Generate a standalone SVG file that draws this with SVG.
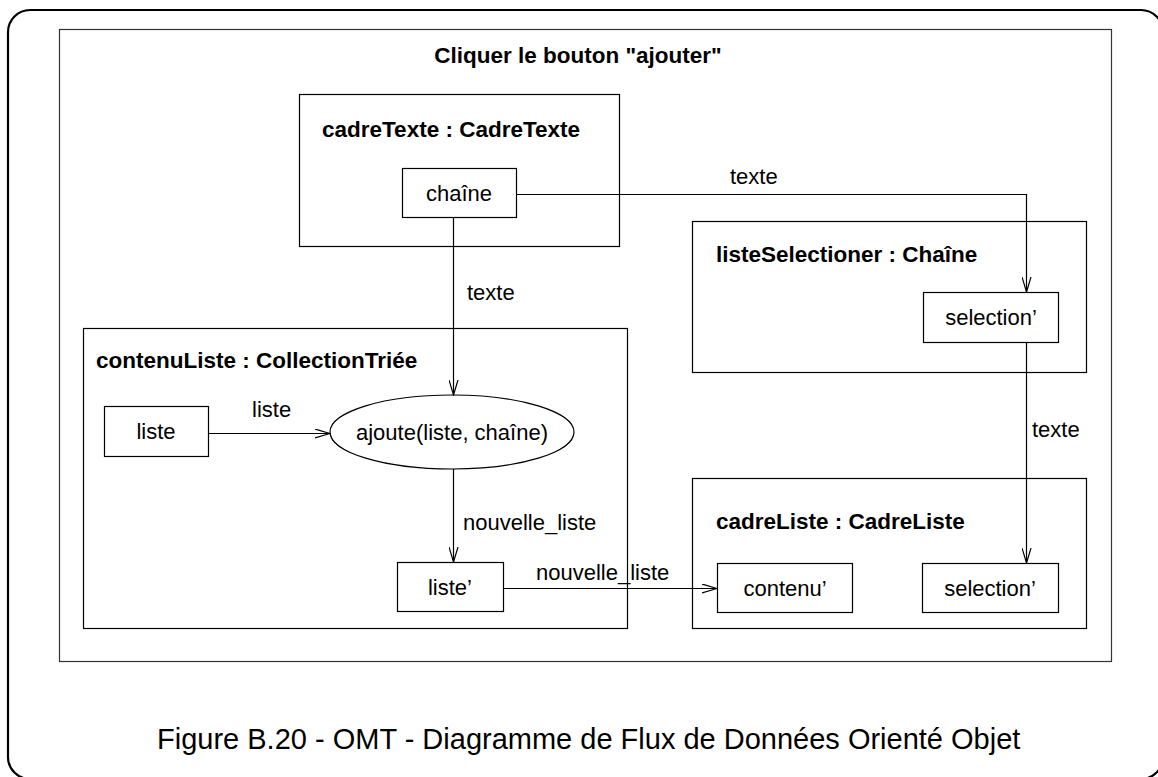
<svg xmlns="http://www.w3.org/2000/svg" width="1158" height="777" viewBox="0 0 1158 777">
<style>
text{font-family:"Liberation Sans",Arial,sans-serif;fill:#000}
.lbl{font-size:22px}
.ttl{font-size:22.5px;font-weight:bold}
.box{fill:#fff;stroke:#000;stroke-width:1.2}
.grp{fill:none;stroke:#000;stroke-width:1.2}
.con{fill:none;stroke:#000;stroke-width:1.2}
</style>
<defs>
<marker id="arr" markerWidth="16" markerHeight="10" refX="15" refY="5" orient="auto" markerUnits="userSpaceOnUse">
<path d="M0,0.5 L15,5 L0,9.5" fill="none" stroke="#000" stroke-width="1.2"/>
</marker>
</defs>
<rect x="8" y="10" width="1155" height="769" rx="22" fill="#fff" stroke="#000" stroke-width="2.2"/>
<rect x="59.5" y="29.5" width="1052" height="632" fill="none" stroke="#333" stroke-width="1.2"/>
<text class="ttl" x="578" y="63" text-anchor="middle">Cliquer le bouton "ajouter"</text>

<g id="cadreTexte">
<rect class="grp" x="299.5" y="94.5" width="320" height="152"/>
<text class="ttl" x="322" y="137">cadreTexte : CadreTexte</text>
</g>
<g id="chaine">
<rect class="box" x="402.5" y="168.5" width="114" height="49"/>
<text class="lbl" x="459" y="201" text-anchor="middle">chaîne</text>
</g>

<g id="listeSelectioner">
<rect class="grp" x="692.5" y="221.5" width="394" height="151"/>
<text class="ttl" x="716" y="262">listeSelectioner : Chaîne</text>
</g>
<g id="selection1">
<rect class="box" x="923.5" y="292.5" width="135" height="50"/>
<text class="lbl" x="991" y="325" text-anchor="middle">selection’</text>
</g>

<g id="contenuListe">
<rect class="grp" x="83.5" y="328.5" width="544" height="300"/>
<text class="ttl" x="96" y="368">contenuListe : CollectionTriée</text>
</g>
<g id="liste">
<rect class="box" x="104.5" y="406.5" width="104" height="50"/>
<text class="lbl" x="156" y="439" text-anchor="middle">liste</text>
</g>
<g id="ajoute">
<ellipse class="box" cx="452" cy="432" rx="122" ry="37"/>
<text class="lbl" x="452" y="440" text-anchor="middle">ajoute(liste, chaîne)</text>
</g>
<g id="listePrime">
<rect class="box" x="397.5" y="562.5" width="106" height="49"/>
<text class="lbl" x="450" y="595" text-anchor="middle">liste’</text>
</g>

<g id="cadreListe">
<rect class="grp" x="692.5" y="478.5" width="394" height="150"/>
<text class="ttl" x="716" y="529">cadreListe : CadreListe</text>
</g>
<g id="contenuPrime">
<rect class="box" x="717.5" y="563.5" width="135" height="49"/>
<text class="lbl" x="785" y="596" text-anchor="middle">contenu’</text>
</g>
<g id="selection2">
<rect class="box" x="922.5" y="563.5" width="136" height="49"/>
<text class="lbl" x="990" y="596" text-anchor="middle">selection’</text>
</g>

<g id="connectors">
<path class="con" d="M516.5,194.5 H1026.5 V292" marker-end="url(#arr)"/>
<text class="lbl" x="730" y="184">texte</text>
<path class="con" d="M453.5,217.5 V395" marker-end="url(#arr)"/>
<text class="lbl" x="467" y="300">texte</text>
<path class="con" d="M208.5,433.5 H330" marker-end="url(#arr)"/>
<text class="lbl" x="252" y="417">liste</text>
<path class="con" d="M453.5,469 V562" marker-end="url(#arr)"/>
<text class="lbl" x="463" y="530">nouvelle_liste</text>
<path class="con" d="M503.5,588.5 H717" marker-end="url(#arr)"/>
<text class="lbl" x="536" y="580">nouvelle_liste</text>
<path class="con" d="M1026.5,342.5 V563" marker-end="url(#arr)"/>
<text class="lbl" x="1032" y="437">texte</text>
</g>

<text x="157" y="749" style="font-size:29px">Figure B.20 - OMT - Diagramme de Flux de Données Orienté Objet</text>
</svg>
